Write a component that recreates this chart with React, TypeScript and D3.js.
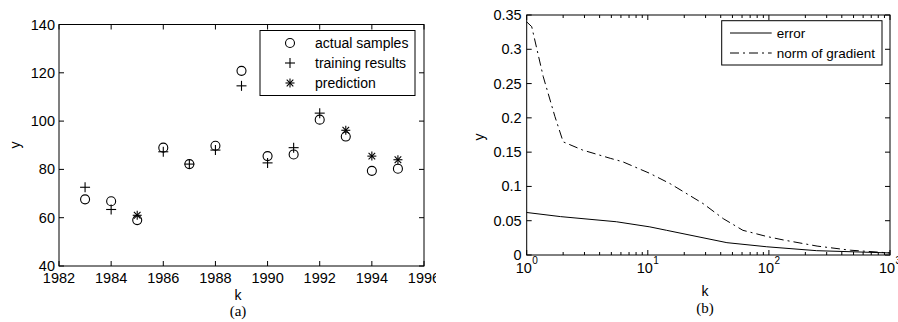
import React from "react";
import * as d3 from "d3";

// ---- Panel (a) data ----
const years = [1983, 1984, 1985, 1986, 1987, 1988, 1989, 1990, 1991, 1992, 1993, 1994, 1995];
const actualSamples = [67.6, 66.8, 59, 89, 82.2, 89.8, 120.8, 85.5, 86.2, 100.6, 93.6, 79.4, 80.3];
const trainingYears = [1983, 1984, 1986, 1987, 1988, 1989, 1990, 1991, 1992];
const trainingResults = [72.6, 63.4, 87.3, 82.2, 88, 114.6, 82.7, 89, 103.3];
const predictionYears = [1985, 1993, 1994, 1995];
const predictionValues = [61, 96.2, 85.5, 84];
const aXTicks = [1982, 1984, 1986, 1988, 1990, 1992, 1994, 1996];
const aYTicks = [40, 60, 80, 100, 120, 140];
const aLegend = ["actual samples", "training results", "prediction"];

// ---- Panel (b) data ----
const gradK = [1, 1.1, 1.37, 1.71, 2, 2.9, 4.9, 6.2, 10.4, 15.3, 28.6, 42, 61, 96, 131, 250, 470, 1000];
const gradNorm = [0.34, 0.333, 0.26, 0.202, 0.165, 0.153, 0.141, 0.136, 0.119, 0.104, 0.075, 0.053, 0.036, 0.027, 0.022, 0.013, 0.007, 0.003];
const errK = [1, 1.9, 5.5, 10.4, 14.3, 27, 45, 96, 248, 1000];
const errValues = [0.062, 0.056, 0.0485, 0.041, 0.036, 0.026, 0.018, 0.012, 0.0063, 0.003];
const bYTicks = [0, 0.05, 0.1, 0.15, 0.2, 0.25, 0.3, 0.35];
const bXTicks = [1, 10, 100, 1000];
const bLegend = ["error", "norm of gradient"];

const FONT = "'Liberation Sans', Arial, sans-serif";
const SERIF = "'Liberation Serif', 'Times New Roman', serif";
const DASHDOT = "9,4,2,4";
const TICKFS = 14.5;

function Circle({ x, y }: { x: number; y: number }) {
  return <circle cx={x} cy={y} r={4.5} fill="none" stroke="#000" strokeWidth={1.1} />;
}
function Plus({ x, y }: { x: number; y: number }) {
  const s = 5;
  return (
    <g stroke="#000" strokeWidth={1.1}>
      <line x1={x - s} x2={x + s} y1={y} y2={y} />
      <line x1={x} x2={x} y1={y - s} y2={y + s} />
    </g>
  );
}
function Star({ x, y }: { x: number; y: number }) {
  const s = 4.5;
  const d = 3.3;
  return (
    <g stroke="#000" strokeWidth={1.1}>
      <line x1={x - s} x2={x + s} y1={y} y2={y} />
      <line x1={x} x2={x} y1={y - s} y2={y + s} />
      <line x1={x - d} x2={x + d} y1={y - d} y2={y + d} />
      <line x1={x - d} x2={x + d} y1={y + d} y2={y - d} />
    </g>
  );
}

function PanelA() {
  const L = 59, R = 424, T = 24.5, B = 266;
  const x = d3.scaleLinear().domain([1982, 1996]).range([L, R]);
  const y = d3.scaleLinear().domain([40, 140]).range([B, T]);
  const tk = 5;
  return (
    <g>
      <defs>
        <clipPath id="clipA">
          <rect x={0} y={0} width={436} height={322} />
        </clipPath>
      </defs>
      <rect x={L} y={T} width={R - L} height={B - T} fill="#fff" stroke="#000" strokeWidth={1} />
      {aXTicks.map((t) => (
        <g key={"ax" + t}>
          <line x1={x(t)} x2={x(t)} y1={B} y2={B - tk} stroke="#000" />
          <line x1={x(t)} x2={x(t)} y1={T} y2={T + tk} stroke="#000" />
        </g>
      ))}
      {aYTicks.map((t) => (
        <g key={"ay" + t}>
          <line x1={L} x2={L + tk} y1={y(t)} y2={y(t)} stroke="#000" />
          <line x1={R} x2={R - tk} y1={y(t)} y2={y(t)} stroke="#000" />
          <text x={L - 4} y={y(t) + 5} textAnchor="end" fontSize={TICKFS} fontFamily={FONT}>{t}</text>
        </g>
      ))}
      <g clipPath="url(#clipA)">
        {aXTicks.map((t) => (
          <text key={"axl" + t} x={x(t)} y={282.5} textAnchor="middle" fontSize={TICKFS} fontFamily={FONT}>{t}</text>
        ))}
      </g>
      {years.map((yr, i) => <Circle key={"c" + yr} x={x(yr)} y={y(actualSamples[i])} />)}
      {trainingYears.map((yr, i) => <Plus key={"p" + yr} x={x(yr)} y={y(trainingResults[i])} />)}
      {predictionYears.map((yr, i) => <Star key={"s" + yr} x={x(yr)} y={y(predictionValues[i])} />)}
      {/* legend */}
      <rect x={260} y={30.5} width={155} height={65} fill="#fff" stroke="#000" strokeWidth={1} />
      {aLegend.map((lab, i) => {
        const ly = 43 + i * 20;
        return (
          <g key={lab}>
            {i === 0 ? <Circle x={290} y={ly} /> : i === 1 ? <Plus x={290} y={ly} /> : <Star x={290} y={ly} />}
            <text x={315} y={ly + 5} fontSize={14} fontFamily={FONT}>{lab}</text>
          </g>
        );
      })}
      <text x={238} y={300} textAnchor="middle" fontSize={14} fontFamily={FONT}>k</text>
      <text x={238} y={316} textAnchor="middle" fontSize={15} fontFamily={SERIF}>(a)</text>
      <text transform="translate(20,145) rotate(-90)" textAnchor="middle" fontSize={14} fontFamily={FONT}>y</text>
    </g>
  );
}

function PanelB() {
  const L = 526.7, R = 890, T = 15, B = 255;
  const x = d3.scaleLog().domain([1, 1000]).range([L, R]);
  const y = d3.scaleLinear().domain([0, 0.35]).range([B, T]);
  const tk = 5;
  const minor: number[] = [];
  for (let dec = 1; dec < 1000; dec *= 10) for (let m = 2; m <= 9; m++) minor.push(m * dec);
  const line = d3
    .line<[number, number]>()
    .x((d) => x(d[0]))
    .y((d) => y(d[1]));
  const gradPts = gradK.map((k, i) => [k, gradNorm[i]] as [number, number]);
  const errPts = errK.map((k, i) => [k, errValues[i]] as [number, number]);
  const fmt = (v: number) => (v === 0 ? "0" : String(+v.toFixed(2)));
  return (
    <g>
      <rect x={L} y={T} width={R - L} height={B - T} fill="#fff" stroke="#000" strokeWidth={1} />
      {bXTicks.map((t) => (
        <g key={"bx" + t}>
          <line x1={x(t)} x2={x(t)} y1={B} y2={B - tk} stroke="#000" />
          <line x1={x(t)} x2={x(t)} y1={T} y2={T + tk} stroke="#000" />
          <text x={x(t) - 3} y={272.5} textAnchor="middle" fontSize={TICKFS} fontFamily={FONT}>10</text>
          <text x={x(t) + 5.5} y={264} textAnchor="start" fontSize={10} fontFamily={FONT}>{Math.round(Math.log10(t))}</text>
        </g>
      ))}
      {minor.map((t) => (
        <g key={"bm" + t}>
          <line x1={x(t)} x2={x(t)} y1={B} y2={B - 3} stroke="#000" />
          <line x1={x(t)} x2={x(t)} y1={T} y2={T + 3} stroke="#000" />
        </g>
      ))}
      {bYTicks.map((t) => (
        <g key={"by" + t}>
          <line x1={L} x2={L + tk} y1={y(t)} y2={y(t)} stroke="#000" />
          <line x1={R} x2={R - tk} y1={y(t)} y2={y(t)} stroke="#000" />
          <text x={L - 5} y={y(t) + 5} textAnchor="end" fontSize={TICKFS} fontFamily={FONT}>{fmt(t)}</text>
        </g>
      ))}
      <path d={line(errPts) || ""} fill="none" stroke="#000" strokeWidth={1} />
      <path d={line(gradPts) || ""} fill="none" stroke="#000" strokeWidth={1} strokeDasharray={DASHDOT} />
      {/* legend */}
      <rect x={721.7} y={20.7} width={160.3} height={44.3} fill="#fff" stroke="#000" strokeWidth={1} />
      {bLegend.map((lab, i) => {
        const ly = 33 + i * 20;
        return (
          <g key={lab}>
            <line x1={730} x2={771.7} y1={ly} y2={ly} stroke="#000" strokeDasharray={i === 1 ? DASHDOT : undefined} />
            <text x={776.7} y={ly + 5} fontSize={13.5} fontFamily={FONT}>{lab}</text>
          </g>
        );
      })}
      <text x={705} y={296} textAnchor="middle" fontSize={14} fontFamily={FONT}>k</text>
      <text x={705} y={313} textAnchor="middle" fontSize={15} fontFamily={SERIF}>(b)</text>
      <text transform="translate(484,137) rotate(-90)" textAnchor="middle" fontSize={14} fontFamily={FONT}>y</text>
    </g>
  );
}

export default function App() {
  return (
    <div style={{ position: "absolute", left: 0, top: 0 }}>
      <svg width={898} height={322} viewBox="0 0 898 322" style={{ display: "block", background: "#fff" }}>
        <PanelA />
        <PanelB />
      </svg>
    </div>
  );
}
